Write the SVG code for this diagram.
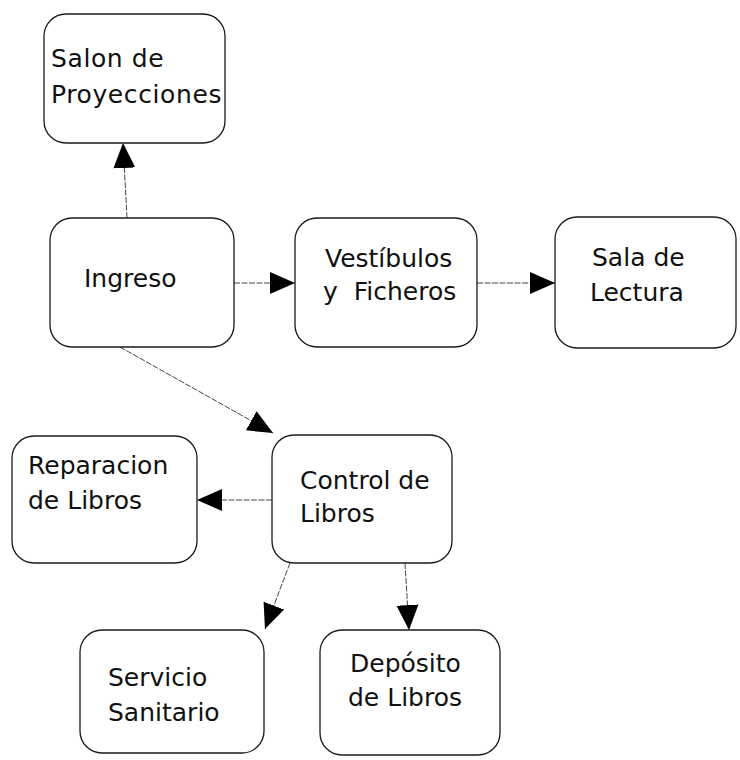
<svg xmlns="http://www.w3.org/2000/svg" width="740" height="760" viewBox="0 0 740 760">
<defs>
<style>
.box{fill:#fff;stroke:#1a1a1a;stroke-width:1.3}
.lbl{font-family:"DejaVu Sans","Liberation Sans",sans-serif;font-size:25px;fill:#111}
.con{stroke:#444;stroke-width:1;fill:none;stroke-dasharray:6 1.5;marker-end:url(#ah)}
</style>
<marker id="ah" markerUnits="userSpaceOnUse" markerWidth="26" markerHeight="24" refX="25" refY="11" orient="auto" viewBox="0 0 26 22">
<path d="M0,0 L25,11 L0,22 z" fill="#000"/>
</marker>
</defs>
<rect width="740" height="760" fill="#fff"/>
<g id="connectors">
<line class="con" x1="127" y1="218" x2="123" y2="143"/>
<line class="con" x1="234" y1="283" x2="295" y2="283"/>
<line class="con" x1="477" y1="283" x2="555" y2="283"/>
<line class="con" x1="120" y1="347" x2="273" y2="433"/>
<line class="con" x1="272" y1="500" x2="197" y2="500"/>
<line class="con" x1="290" y1="563" x2="265" y2="629"/>
<line class="con" x1="405" y1="563" x2="409" y2="630"/>
</g>
<g id="salon">
<rect class="box" x="44" y="14" width="181" height="129" rx="22"/>
<text class="lbl" x="51" y="67" style="letter-spacing:0.6px">Salon de</text>
<text class="lbl" x="51" y="103" style="letter-spacing:0.6px">Proyecciones</text>
</g>
<g id="ingreso">
<rect class="box" x="50" y="218" width="184" height="129" rx="22"/>
<text class="lbl" x="84" y="287">Ingreso</text>
</g>
<g id="vestibulos">
<rect class="box" x="295" y="218" width="182" height="129" rx="22"/>
<text class="lbl" x="325" y="267">Vestíbulos</text>
<text class="lbl" x="323" y="300" style="word-spacing:8px">y Ficheros</text>
</g>
<g id="sala">
<rect class="box" x="555" y="217" width="181" height="131" rx="22"/>
<text class="lbl" x="592" y="266">Sala de</text>
<text class="lbl" x="590" y="301">Lectura</text>
</g>
<g id="reparacion">
<rect class="box" x="12" y="436" width="185" height="127" rx="22"/>
<text class="lbl" x="28" y="474">Reparacion</text>
<text class="lbl" x="28" y="509">de Libros</text>
</g>
<g id="control">
<rect class="box" x="272" y="435" width="180" height="128" rx="22"/>
<text class="lbl" x="300" y="489">Control de</text>
<text class="lbl" x="300" y="522">Libros</text>
</g>
<g id="servicio">
<rect class="box" x="80" y="630" width="184" height="123" rx="22"/>
<text class="lbl" x="108" y="686">Servicio</text>
<text class="lbl" x="108" y="721">Sanitario</text>
</g>
<g id="deposito">
<rect class="box" x="320" y="630" width="180" height="125" rx="22"/>
<text class="lbl" x="350" y="672">Depósito</text>
<text class="lbl" x="348" y="706">de Libros</text>
</g>
</svg>
